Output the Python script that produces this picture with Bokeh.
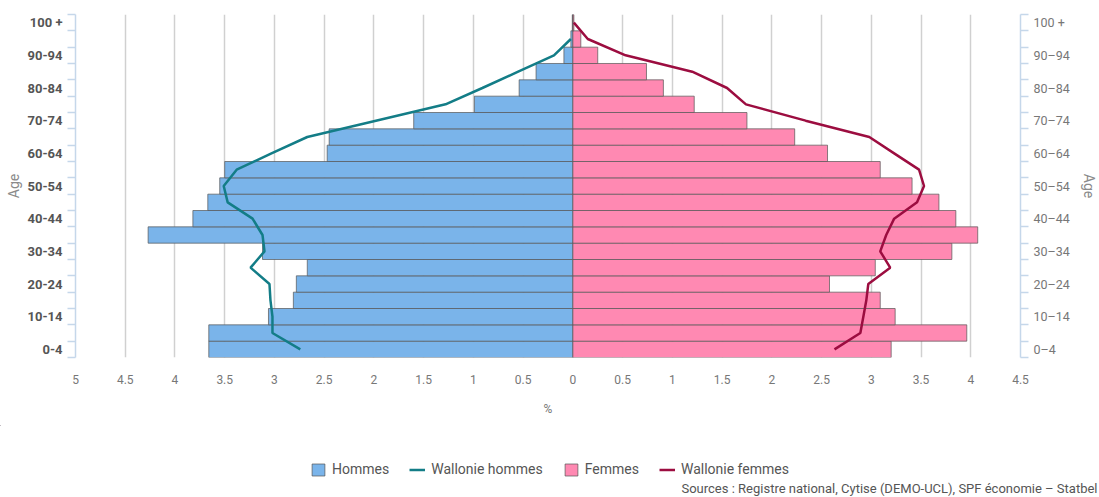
from bokeh.plotting import figure
from bokeh.models import (ColumnDataSource, FixedTicker, LinearAxis, Legend,
                          LegendItem, Label, Range1d)
from bokeh.embed import file_html
from bokeh.resources import INLINE

# ---- data (bottom -> top) ----
age_groups = ["0-4", "5-9", "10-14", "15-19", "20-24", "25-29", "30-34", "35-39",
              "40-44", "45-49", "50-54", "55-59", "60-64", "65-69", "70-74",
              "75-79", "80-84", "85-89", "90-94", "95-99", "100+"]
hommes = [3.66, 3.66, 3.06, 2.81, 2.78, 2.67, 3.12, 4.27, 3.82, 3.67, 3.55,
          3.50, 2.47, 2.45, 1.60, 0.99, 0.54, 0.37, 0.09, 0.02, 0.005]
femmes = [3.20, 3.96, 3.24, 3.09, 2.58, 3.04, 3.81, 4.07, 3.85, 3.68, 3.41,
          3.09, 2.56, 2.23, 1.75, 1.22, 0.91, 0.74, 0.25, 0.08, 0.01]
wallonie_hommes = [2.74, 3.02, 3.02, 3.04, 3.05, 3.24, 3.10, 3.12, 3.22, 3.47,
                   3.51, 3.38, 3.03, 2.67, 1.98, 1.28, 0.91, 0.55, 0.19, 0.02,
                   float("nan")]
wallonie_femmes = [2.63, 2.89, 2.92, 2.95, 2.97, 3.19, 3.09, 3.15, 3.23, 3.46,
                   3.53, 3.48, 3.23, 2.98, 2.34, 1.74, 1.55, 1.20, 0.53, 0.15,
                   0.01]
left_labels = ["0-4", "10-14", "20-24", "30-34", "40-44", "50-54", "60-64",
               "70-74", "80-84", "90-94", "100 +"]
right_labels = ["0\u20134", "10\u201314", "20\u201324", "30\u201334", "40\u201344",
                "50\u201354", "60\u201364", "70\u201374", "80\u201384",
                "90\u201394", "100 +"]
x_ticks = [-5, -4.5, -4, -3.5, -3, -2.5, -2, -1.5, -1, -0.5, 0, 0.5, 1, 1.5,
           2, 2.5, 3, 3.5, 4, 4.5]
legend_labels = ["Hommes", "Wallonie hommes", "Femmes", "Wallonie femmes"]
source_text = "Sources : Registre national, Cytise (DEMO-UCL), SPF \u00e9conomie \u2013 Statbel"

FONT = "Roboto"
C_M, C_F = "#7ab4ea", "#ff89b2"
C_WM, C_WF = "#137d87", "#9c0d40"

idx = list(range(len(age_groups)))
src = ColumnDataSource(dict(
    y=idx,
    h_left=[-v for v in hommes],
    f_right=femmes,
    zero=[0] * len(idx),
    wh=[-v for v in wallonie_hommes],
    wf=wallonie_femmes,
))

W = 1099
H1 = 425
H2 = 72

p = figure(width=W, height=H1, output_backend="svg", toolbar_location=None,
           x_range=Range1d(-5, 4.5), y_range=Range1d(-0.5, 20.5),
           min_border_left=75, min_border_right=77, min_border_top=14,
           min_border_bottom=H1 - 357)
p.outline_line_color = None

# grid
p.ygrid.visible = False
p.xgrid.ticker = FixedTicker(ticks=[t for t in x_ticks if t != -5])
p.xgrid.grid_line_color = "#d0d0d0"
p.xgrid.grid_line_width = 1.5

bar_style = dict(line_color="#555555", line_alpha=0.7, line_width=1)
p.hbar(y="y", left="h_left", right="zero", height=1, source=src,
       fill_color=C_M, **bar_style)
p.hbar(y="y", left="zero", right="f_right", height=1, source=src,
       fill_color=C_F, **bar_style)
p.line(x="wh", y="y", source=src, line_color=C_WM, line_width=2.5)
p.line(x="wf", y="y", source=src, line_color=C_WF, line_width=2.5)

# x axis
xa = p.xaxis[0]
xa.ticker = FixedTicker(ticks=x_ticks)
xa.major_label_overrides = {t: ("%g" % abs(t)) for t in x_ticks}
xa.axis_line_color = None
xa.major_tick_line_color = None
xa.minor_tick_line_color = None
xa.major_tick_out = 0
xa.major_tick_in = 0
xa.minor_tick_out = 0
xa.major_label_standoff = 17
xa.major_label_text_font = FONT
xa.major_label_text_font_size = "12px"
xa.major_label_text_color = "#777777"
xa.axis_label = "%"
xa.axis_label_text_font = FONT
xa.axis_label_text_font_size = "12px"
xa.axis_label_text_font_style = "normal"
xa.axis_label_text_color = "#777777"
xa.axis_label_standoff = 15

major_y = [2 * i for i in range(len(left_labels))]
minor_y = [i - 0.5 for i in range(len(age_groups) + 1)]


def style_y(ax, labels, bold, color, size, title_standoff):
    ax.ticker = FixedTicker(ticks=major_y, minor_ticks=minor_y)
    ax.major_label_overrides = {t: lab for t, lab in zip(major_y, labels)}
    ax.axis_line_color = "#c5d7ea"
    ax.axis_line_width = 1.5
    ax.major_tick_line_color = None
    ax.major_tick_out = 0
    ax.major_tick_in = 0
    ax.minor_tick_line_color = "#c5d7ea"
    ax.minor_tick_line_width = 1.5
    ax.minor_tick_out = 8
    ax.minor_tick_in = 0
    ax.major_label_standoff = 5
    ax.major_label_text_font = FONT
    ax.major_label_text_font_size = size
    ax.major_label_text_font_style = "bold" if bold else "normal"
    ax.major_label_text_color = color
    ax.axis_label = "Age"
    ax.axis_label_text_font = FONT
    ax.axis_label_text_font_size = "14px"
    ax.axis_label_text_font_style = "normal"
    ax.axis_label_text_color = "#8a8a8a"
    ax.axis_label_standoff = title_standoff


style_y(p.yaxis[0], left_labels, True, "#555555", "13px", 3)
ra = LinearAxis()
style_y(ra, right_labels, False, "#777777", "12.5px", 8)
p.add_layout(ra, "right")

# ---- bottom strip (separate root): legend + sources ----
p2 = figure(width=W, height=H2, output_backend="svg", toolbar_location=None,
            x_range=Range1d(0, W), y_range=Range1d(H2, 0),
            x_axis_type=None, y_axis_type=None,
            min_border_left=0, min_border_right=0, min_border_top=0,
            min_border_bottom=0)
p2.grid.visible = False
p2.outline_line_color = None

# legend swatch renderers (placed off-screen; only their styles are shown)
proxy = ColumnDataSource(dict(y=[-1000], l=[-1000], r=[-999]))
pm = p2.hbar(y="y", left="l", right="r", height=1, source=proxy, fill_color=C_M, **bar_style)
pf = p2.hbar(y="y", left="l", right="r", height=1, source=proxy, fill_color=C_F, **bar_style)
lm = p2.line(x="l", y="y", source=proxy, line_color=C_WM, line_width=2.5)
lf = p2.line(x="l", y="y", source=proxy, line_color=C_WF, line_width=2.5)

legend = Legend(items=[
    LegendItem(label=legend_labels[0], renderers=[pm]),
    LegendItem(label=legend_labels[1], renderers=[lm]),
    LegendItem(label=legend_labels[2], renderers=[pf]),
    LegendItem(label=legend_labels[3], renderers=[lf]),
], orientation="horizontal", location=(310, 20))
legend.padding = 0
legend.margin = 0
legend.border_line_color = None
legend.background_fill_alpha = 0
legend.glyph_width = 16
legend.glyph_height = 15
legend.label_standoff = 6
legend.spacing = 20
legend.label_text_font = FONT
legend.label_text_font_size = "14px"
legend.label_text_color = "#555555"
legend.label_height = 15
p2.add_layout(legend, "center")

src_label = Label(x=W - 2, y=H2 - 9, text=source_text,
                  text_align="right", text_baseline="alphabetic",
                  text_font=FONT, text_font_size="13px", text_color="#555555")
p2.add_layout(src_label)

open("out.html", "w").write(file_html([p, p2], INLINE))
